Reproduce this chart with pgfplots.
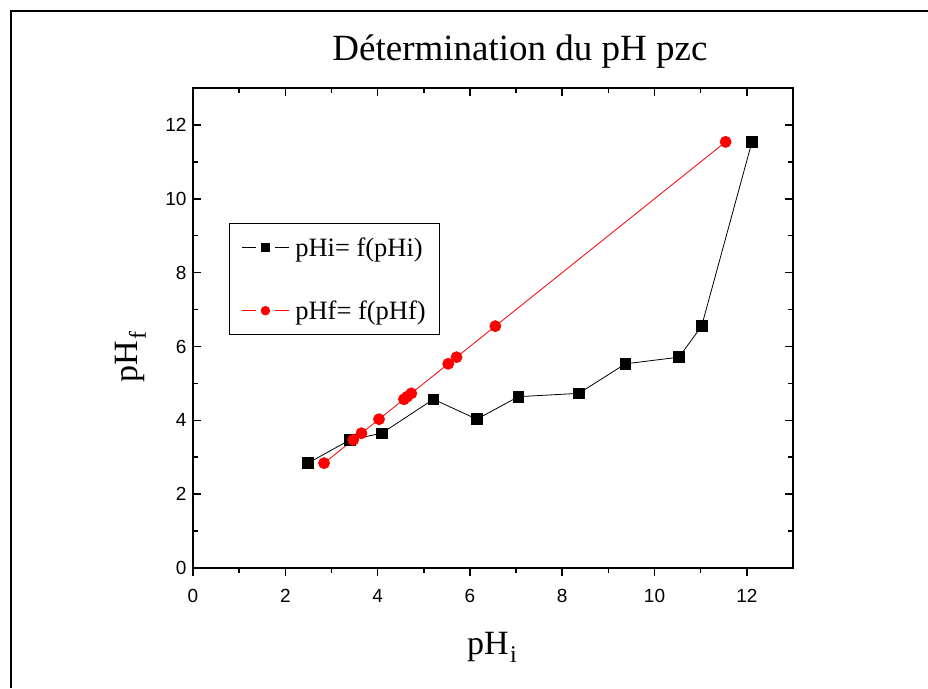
\documentclass[border=0pt]{standalone}
\usepackage{fontspec}
\setmainfont{Liberation Serif}
\newfontfamily\arialf{Liberation Sans}
\usepackage{pgfplots}
\pgfplotsset{compat=1.18}
\begin{document}
\begin{tikzpicture}[x=1pt,y=1pt]
\useasboundingbox (0,0) rectangle (928,688);
\draw[line width=2pt] (11,0) -- (11,677) -- (928,677);
\pgfplotsset{common/.style={
  scale only axis, width=600pt, height=480pt,
  at={(193pt,120pt)}, anchor=south west,
  xmin=0, xmax=13, ymin=0, ymax=13,
  xtick={0,2,...,12}, ytick={0,2,...,12},
  minor x tick num=1, minor y tick num=1,
  axis line style={line width=1.8pt},
  major tick length=8pt, minor tick length=5pt,
  every tick/.style={black, line width=1.5pt},
  tick label style={font=\arialf\fontsize{19}{19}\selectfont},
  /pgf/number format/assume math mode=true,
}}
\begin{axis}[common,
  tick align=inside, xtick pos=right, xticklabel pos=left, ytick pos=both, yticklabel pos=left,
  xticklabel style={yshift=-18pt},
  yticklabel style={xshift=-3pt},
  title={Détermination du pH pzc},
  title style={at={(axis description cs:0.545,1.04375)}, anchor=base, font=\fontsize{37}{40}\selectfont},
  xlabel={pH\kern1.5pt\raisebox{-8pt}{\fontsize{24}{24}\selectfont i}},
  xlabel style={at={(axis description cs:0.4983,-0.1792)}, anchor=base, font=\fontsize{34}{36}\selectfont},
  ylabel={pH\kern1.5pt\raisebox{-8pt}{\fontsize{24}{24}\selectfont f}},
  ylabel style={at={(axis description cs:-0.0917,0.44)}, anchor=base, font=\fontsize{34}{36}\selectfont},
  legend style={at={(axis description cs:0.06,0.71875)}, anchor=north west, draw=black, line width=1pt,
    font=\fontsize{26.5}{30}\selectfont, row sep=39pt, column sep=4pt, inner xsep=12pt, inner ysep=12pt,
    nodes={inner sep=2pt}},
  legend cell align=left,
  legend image code/.code={
    \draw[#1, mark=none] (0pt,0pt) -- (14pt,0pt);
    \draw[#1, mark=none] (33pt,0pt) -- (47pt,0pt);
    \draw[#1, mark size=4.3pt] plot coordinates {(23.5pt,0pt)};
  },
]
\addplot[black, line width=0.8pt, mark=square*, mark size=5.3pt, mark options={solid}] coordinates {
(2.49,2.84) (3.40,3.47) (4.09,3.65) (5.21,4.57) (6.15,4.03) (7.05,4.64)
(8.36,4.73) (9.37,5.53) (10.53,5.71) (11.02,6.55) (12.11,11.54)};
\addlegendentry{pHi= f(pHi)}
\addplot[red, line width=0.8pt, mark=*, mark size=5.5pt, mark options={solid}] coordinates {
(2.84,2.84) (3.47,3.47) (3.65,3.65) (4.03,4.03) (4.57,4.57) (4.64,4.64)
(4.73,4.73) (5.53,5.53) (5.71,5.71) (6.55,6.55) (11.54,11.54)};
\addlegendentry{pHf= f(pHf)}
\end{axis}
\begin{axis}[common, tick align=outside, xtick pos=left, xticklabels={}, ytick=\empty]
\end{axis}
\end{tikzpicture}
\end{document}
